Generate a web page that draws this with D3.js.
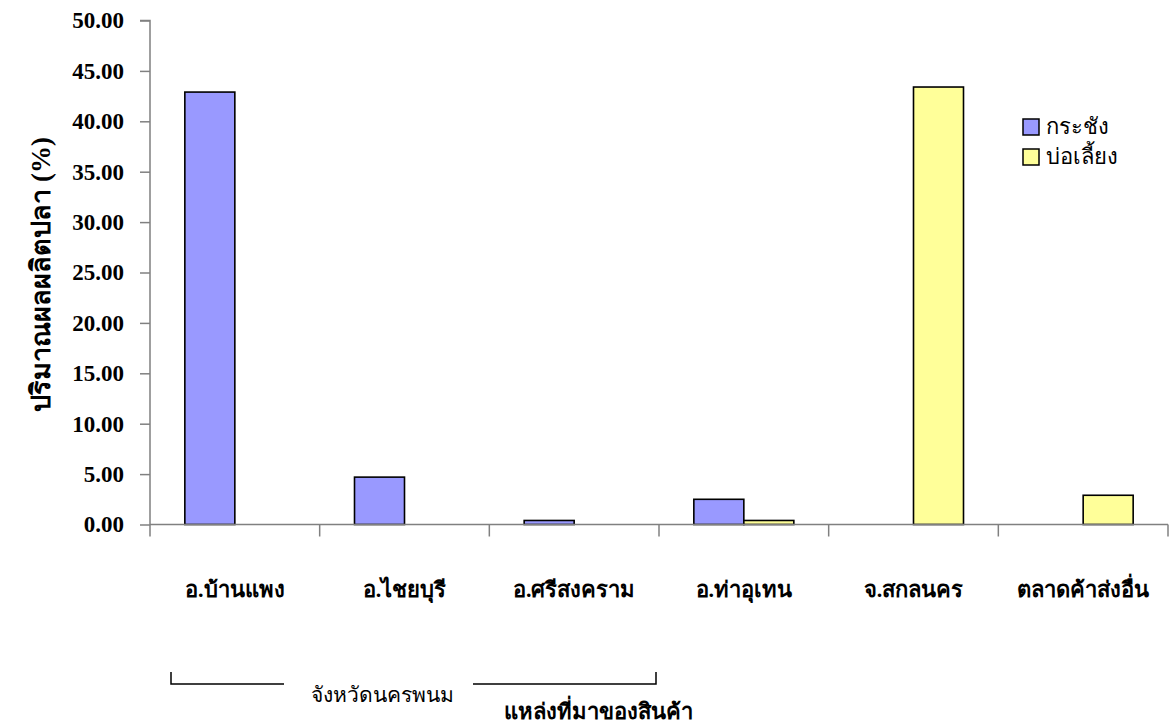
<!DOCTYPE html>
<html>
<head>
<meta charset="utf-8">
<script src="https://cdn.jsdelivr.net/npm/d3@7"></script>
<style>
  html, body { margin: 0; padding: 0; background: #fff; }
  svg { display: block; }
  text { font-family: "Liberation Serif", "Times New Roman", serif; fill: #000; }
</style>
</head>
<body>
<svg id="chart" width="1171" height="727"></svg>
<script>
const categories = ["อ.บ้านแพง", "อ.ไชยบุรี", "อ.ศรีสงคราม", "อ.ท่าอุเทน", "จ.สกลนคร", "ตลาดค้าส่งอื่น"];
const seriesNames = ["กระชัง", "บ่อเลี้ยง"];
const kraChang = [42.9, 4.7, 0.4, 2.5, 0, 0];
const borLiang = [0, 0, 0, 0.4, 43.4, 2.9];
const yTicks = [0, 5, 10, 15, 20, 25, 30, 35, 40, 45, 50];
const colors = ["#9999FF", "#FFFF99"];
const yTitle = "ปริมาณผลผลิตปลา (%)";
const xTitle = "แหล่งที่มาของสินค้า";
const groupLabel = "จังหวัดนครพนม";

(function () {
const svg = d3.select("#chart");
const mLeft = 150, mRight = 1168, mTop = 20.5, mBottom = 524.5;

const x = d3.scaleBand().domain(categories).range([mLeft, mRight]).padding(0);
const y = d3.scaleLinear().domain([0, 50]).range([mBottom, mTop]);
const xs = d3.scaleBand().domain(seriesNames).range([-50, 50]).padding(0);

const data = categories.map((c, i) => ({cat: c, vals: [kraChang[i], borLiang[i]]}));

// bars
const g = svg.append("g");
data.forEach(d => {
  d.vals.forEach((v, si) => {
    if (v <= 0) return;
    const cx = x(d.cat) + x.bandwidth() / 2;
    g.append("rect")
      .attr("x", cx + xs(seriesNames[si]))
      .attr("y", y(v))
      .attr("width", xs.bandwidth())
      .attr("height", y(0) - y(v))
      .attr("fill", colors[si])
      .attr("stroke", "#000")
      .attr("stroke-width", 1.6);
  });
});

// y axis
const yAxis = d3.axisLeft(y).tickValues(yTicks).tickSize(10).tickPadding(16)
  .tickFormat(d => d3.format(".2f")(d));
const ya = svg.append("g").attr("transform", `translate(${mLeft},0)`).call(yAxis);
ya.select(".domain").attr("stroke", "#808080").attr("stroke-width", 1.5)
  .attr("d", `M-10,${mTop}H0V${mBottom + 12}`);
ya.selectAll(".tick line").attr("stroke", "#808080").attr("stroke-width", 1.5);
ya.selectAll(".tick text").style("font-family", '"Liberation Serif", serif')
  .style("font-weight", "bold").style("font-size", "23px").attr("fill", "#000");

// x axis line and ticks
const xa = svg.append("g");
xa.append("line").attr("x1", mLeft).attr("x2", mRight).attr("y1", y(0)).attr("y2", y(0))
  .attr("stroke", "#808080").attr("stroke-width", 1.5);
const boundaries = categories.map(c => x(c)).concat([mRight]);
xa.selectAll("line.tk").data(boundaries.slice(1)).enter().append("line")
  .attr("class", "tk")
  .attr("x1", d => d).attr("x2", d => d)
  .attr("y1", y(0)).attr("y2", y(0) + 12)
  .attr("stroke", "#808080").attr("stroke-width", 1.5);

// category labels
svg.append("g").selectAll("text").data(categories).enter().append("text")
  .attr("x", d => x(d) + x.bandwidth() / 2)
  .attr("y", 597)
  .attr("text-anchor", "middle")
  .style("font-weight", "bold").style("font-size", "22px")
  .text(d => d);

// y title
svg.append("text")
  .attr("transform", `translate(50,${(mTop + mBottom) / 2 + 2}) rotate(-90)`)
  .attr("text-anchor", "middle")
  .style("font-weight", "bold").style("font-size", "27px")
  .text(yTitle);

// bracket for province group
const bx0 = x(categories[0]) + 21, bx1 = x(categories[2]) + x.bandwidth() - 3;
const by = 684;
svg.append("path")
  .attr("d", `M${bx0},${by - 12}V${by}H${bx0 + 113}M${bx1 - 183},${by}H${bx1}V${by - 12}`)
  .attr("fill", "none").attr("stroke", "#000").attr("stroke-width", 1.5);
svg.append("text")
  .attr("x", 382).attr("y", 702)
  .attr("text-anchor", "middle")
  .style("font-size", "21px")
  .text(groupLabel);

// x title
svg.append("text")
  .attr("x", 598).attr("y", 719)
  .attr("text-anchor", "middle")
  .style("font-weight", "bold").style("font-size", "22px")
  .text(xTitle);

// legend
const lg = svg.append("g");
seriesNames.forEach((n, i) => {
  const ly = 119 + i * 30;
  lg.append("rect").attr("x", 1023).attr("y", ly).attr("width", 16).attr("height", 16)
    .attr("fill", colors[i]).attr("stroke", "#000").attr("stroke-width", 1.5);
  lg.append("text").attr("x", 1046).attr("y", ly + 15)
    .style("font-size", "22px").text(n);
});
})();
</script>
</body>
</html>
